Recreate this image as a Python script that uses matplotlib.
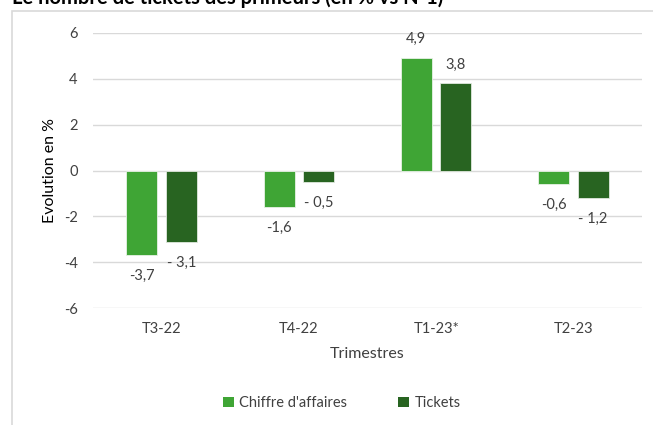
import matplotlib
matplotlib.use("Agg")
import matplotlib.pyplot as plt
from matplotlib.patches import Rectangle, Patch
import numpy as np

plt.rcParams['font.family'] = ['Lato', 'DejaVu Sans']

title = "Le nombre de tickets des primeurs (en % vs N-1)"
categories = ["T3-22", "T4-22", "T1-23*", "T2-23"]
ca_values = [-3.7, -1.6, 4.9, -0.6]
tickets_values = [-3.1, -0.5, 3.8, -1.2]
ca_labels = ["-3,7", "-1,6", "4,9", "-0,6"]
tickets_labels = ["- 3,1", "- 0,5", "3,8", "- 1,2"]
series_names = ["Chiffre d'affaires", "Tickets"]
yticks = [-6, -4, -2, 0, 2, 4, 6]

c_light = "#3fa535"
c_dark = "#286421"
txt = "#404040"

W, H = 653, 425
fig = plt.figure(figsize=(W / 100, H / 100), dpi=100)

# chart frame (partially cropped)
frame = Rectangle((12 / W, -0.05), 1.1, 1 - 11 / H + 0.05, transform=fig.transFigure,
                  facecolor="white", edgecolor="#d9d9d9", linewidth=1.2, zorder=-5)
fig.patches.append(frame)
# cropped title
fig.text(12 / W, 1 - 3.8 / H, title, fontsize=14.5, fontweight="bold", color="black",
         ha="left", va="baseline", zorder=-4)

ax = fig.add_axes([93 / W, 1 - 308 / H, (642 - 93) / W, (308 - 33) / H], zorder=2)
ax.set_facecolor("none")

x = np.arange(len(categories))
w = 0.226
off = 0.144
b1 = ax.bar(x - off, ca_values, w, color=c_light, edgecolor="#e8f2e6", linewidth=0.6, zorder=3)
b2 = ax.bar(x + off, tickets_values, w, color=c_dark, edgecolor="#e0e8de", linewidth=0.6, zorder=3)

for bars, labels in ((b1, ca_labels), (b2, tickets_labels)):
    for rect, lab in zip(bars, labels):
        v = rect.get_height()
        cx = rect.get_x() + rect.get_width() / 2
        dy = 19 if v >= 0 else -21
        ax.annotate(lab, (cx, v), xytext=(0, dy), textcoords="offset pixels",
                    ha="center", va="center", fontsize=10.5, color=txt)

ax.set_xlim(-0.5, len(categories) - 0.5)
ax.set_ylim(-6, 6)
ax.set_yticks(yticks)
ax.set_yticklabels([str(t) for t in yticks])
ax.set_xticks(x)
ax.set_xticklabels(categories)
ax.grid(axis="y", color="#d9d9d9", linewidth=1, zorder=0)
ax.set_axisbelow(True)
for s in ax.spines.values():
    s.set_visible(False)
ax.tick_params(axis="both", length=0, labelsize=10.5, labelcolor=txt)
ax.tick_params(axis="y", pad=11)
ax.tick_params(axis="x", pad=10)
ax.set_ylabel("Evolution en %", fontsize=11.5, color="black", labelpad=5)
ax.set_xlabel("Trimestres", fontsize=11.5, color=txt, labelpad=8)

handles = [Patch(facecolor=c_light, label=series_names[0]),
           Patch(facecolor=c_dark, label=series_names[1])]
fig.legend(handles=handles, loc="center", bbox_to_anchor=(342 / W, 1 - 403 / H), ncol=2,
           frameon=False, fontsize=10.5, handlelength=0.75, handleheight=0.75,
           handletextpad=0.35, columnspacing=3.5, labelcolor=txt)

fig.savefig("out.png", dpi=100)
